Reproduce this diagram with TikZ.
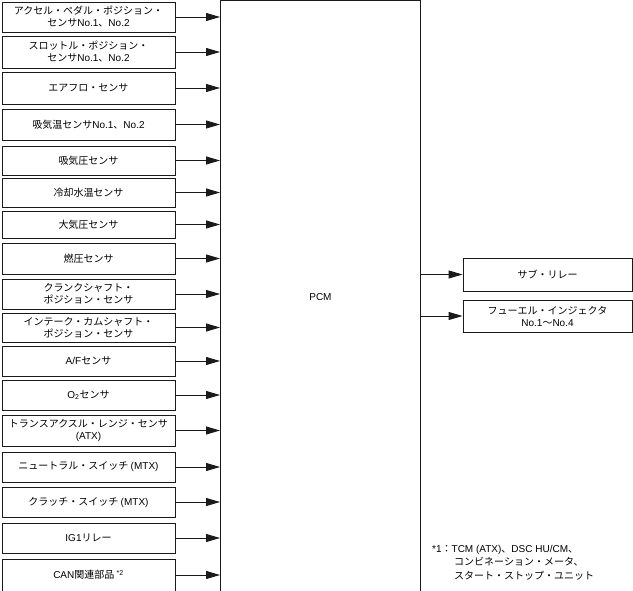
\documentclass[tikz,border=0pt]{standalone}
\usepackage{fontspec}
\setmainfont{Noto Sans CJK JP}
\newfontfamily\lat{Liberation Sans}
\usetikzlibrary{arrows.meta}
\definecolor{PcmInk}{HTML}{1A1A1A}

\begin{document}
\begin{tikzpicture}[x=1pt,y=-1pt,
    inbox/.style={draw=PcmInk, line width=0.9pt, minimum width=173pt,
      align=center, inner sep=0pt, font=\fontsize{10}{12}\selectfont},
    outbox/.style={inbox, minimum width=169pt},
    sig/.style={draw=PcmInk, line width=0.9pt,
      -{Triangle[length=14pt,width=8pt]}}]
  \useasboundingbox (0,0) rectangle (633,591);

  % PCM
  \node[draw=PcmInk, line width=0.9pt, minimum width=200pt, minimum height=592pt,
    anchor=north west, inner sep=0pt] (pcm) at (220,0.5) {};
  \node[font=\fontsize{10}{12}\selectfont\lat] (pcmlabel) at (pcm.center) {PCM};

  % inputs
  \foreach \i/\yc/\h/\txt in {
      1/17/30/{アクセル・ペダル・ポジション・\\センサ{\lat No.1}、{\lat No.2}},
      2/52/32/{スロットル・ポジション・\\センサ{\lat No.1}、{\lat No.2}},
      3/88/32/{エアフロ・センサ},
      4/124.5/31/{吸気温センサ{\lat No.1}、{\lat No.2}},
      5/160.5/29/{吸気圧センサ},
      6/192.5/29/{冷却水温センサ},
      7/224.5/27/{大気圧センサ},
      8/258.5/31/{燃圧センサ},
      9/294/30/{クランクシャフト・\\ポジション・センサ},
      10/327.5/29/{インテーク・カムシャフト・\\ポジション・センサ},
      11/361/30/{{\lat A/F}センサ},
      12/395/30/{{\lat O\textsubscript{2}}センサ},
      13/430.5/31/{トランスアクスル・レンジ・センサ\\{\lat (ATX)}},
      14/467/30/{ニュートラル・スイッチ {\lat (MTX)}},
      15/502/30/{クラッチ・スイッチ {\lat (MTX)}},
      16/538/30/{{\lat IG1}リレー},
      17/575/32/{{\lat CAN}関連部品 {\lat\textsuperscript{*2}}}}{
    \node[inbox, minimum height=\h pt] (in\i) at (88.5,\yc) {\txt};
    \draw[sig] (in\i.east) -- (pcm.west |- in\i.east);
  }

  % outputs
  \node[outbox, minimum height=33pt] (subrelay) at (547.5,274.5) {サブ・リレー};
  \node[outbox, minimum height=32pt] (injector) at (547.5,316)
    {フューエル・インジェクタ\\{\lat No.1}～{\lat No.4}};
  \draw[sig] (pcm.east |- subrelay.west) -- (subrelay.west);
  \draw[sig] (pcm.east |- injector.west) -- (injector.west);

  % note
  \node[anchor=north west, align=left, inner sep=0pt,
    font=\fontsize{10}{13.5}\selectfont] (note) at (432,545)
    {{\lat *1}：{\lat TCM (ATX)}、{\lat DSC HU/CM}、\\
     \hspace*{22pt}コンビネーション・メータ、\\
     \hspace*{22pt}スタート・ストップ・ユニット};
\end{tikzpicture}
\end{document}
